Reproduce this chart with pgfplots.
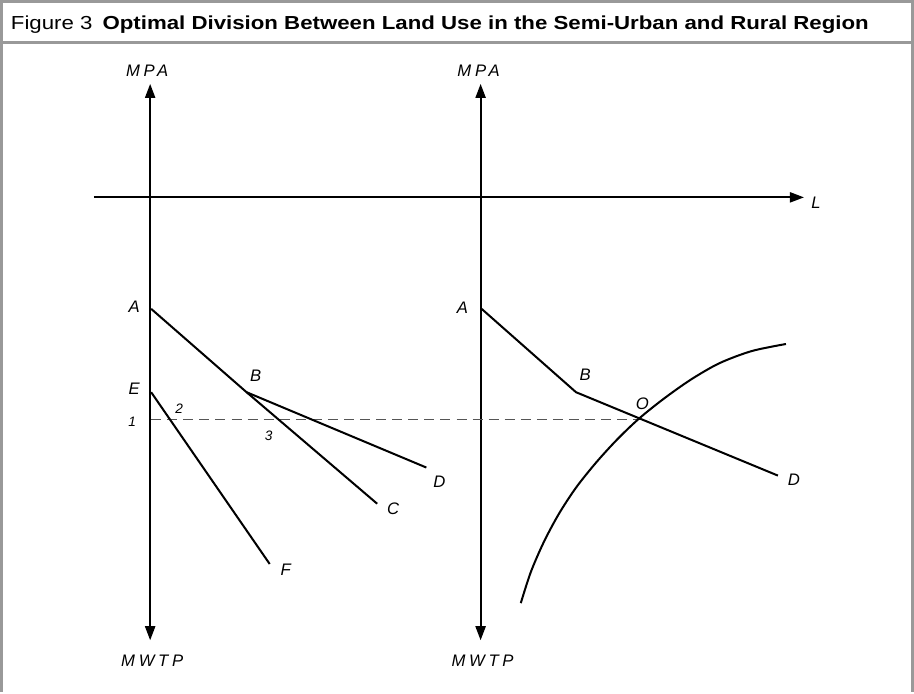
\documentclass[border=0pt]{standalone}
\usepackage{pgfplots}
\pgfplotsset{compat=1.18}
\usepackage{fontspec}
\setmainfont{Liberation Sans}
\newfontfamily\spacedit[LetterSpace=22,ItalicFont={* Italic}]{Liberation Sans}
\usetikzlibrary{arrows.meta}
\definecolor{framegray}{HTML}{999999}
\definecolor{dashgray}{HTML}{555555}
\newcommand{\lab}[1]{\fontsize{8.3}{10}\selectfont\itshape #1}
\newcommand{\slab}[1]{\fontsize{8.3}{10}\selectfont\spacedit\itshape #1}
\newcommand{\nlab}[1]{\fontsize{6.8}{8}\selectfont\itshape #1}
\begin{document}
\begin{tikzpicture}
\begin{axis}[hide axis, scale only axis, width=457pt, height=344.5pt,
  xmin=0, xmax=914, ymin=0, ymax=689, y dir=reverse, clip=false]
% frame
\addplot[framegray, line width=1.5pt, forget plot] coordinates {(5,689) (5,2) (912,2) (912,689)};
\addplot[framegray, line width=1.5pt, forget plot] coordinates {(5,43) (912,43)};
\node[anchor=base west, inner sep=0pt] at (axis cs:14,30) {\resizebox{427pt}{6.8pt}{Figure 3\hspace{0.45em}\textbf{Optimal Division Between Land Use in the Semi-Urban and Rural Region}}};
% axes
\addplot[black, line width=1pt, {Triangle[length=7pt,width=5pt]}-{Triangle[length=7pt,width=5pt]}] coordinates {(153,638) (153,84)};
\addplot[black, line width=1pt, {Triangle[length=7pt,width=5pt]}-{Triangle[length=7pt,width=5pt]}] coordinates {(482,638) (482,84)};
\addplot[black, line width=1pt, -{Triangle[length=7pt,width=5pt]}] coordinates {(97,197) (804,197)};
% dashed
\addplot[dashgray, line width=0.8pt, dash pattern=on 5pt off 3pt] coordinates {(154,418) (650,418)};
% left panel
\addplot[black, line width=1pt] coordinates {(154,308) (249,391) (379,502)};
\addplot[black, line width=1pt] coordinates {(249,391) (428,466)};
\addplot[black, line width=1pt] coordinates {(154,391) (272,562)};
% right panel
\addplot[black, line width=1pt] coordinates {(483,308) (577,391) (778,474)};
\addplot[black, line width=1pt, smooth] coordinates {(522,601) (532,570) (545,540) (560,512) (577,486) (597,461) (618,438) (640,417) (665,397) (692,378) (720,362) (752,350) (786,343)};
% labels
\node at (axis cs:150,71) {\slab{MPA}};
\node at (axis cs:480,71) {\slab{MPA}};
\node at (axis cs:155,658) {\slab{MWTP}};
\node at (axis cs:484,658) {\slab{MWTP}};
\node at (axis cs:816,202) {\lab{L}};
\node at (axis cs:137,306) {\lab{A}};
\node at (axis cs:258,375) {\lab{B}};
\node at (axis cs:137,388) {\lab{E}};
\node at (axis cs:135,420) {\nlab{1}};
\node at (axis cs:182,407) {\nlab{2}};
\node at (axis cs:271,434) {\nlab{3}};
\node at (axis cs:441,480) {\lab{D}};
\node at (axis cs:395,507) {\lab{C}};
\node at (axis cs:288,568) {\lab{F}};
\node at (axis cs:464,307) {\lab{A}};
\node at (axis cs:586,374) {\lab{B}};
\node at (axis cs:643,402) {\lab{O}};
\node at (axis cs:794,478) {\lab{D}};
\end{axis}
\end{tikzpicture}
\end{document}
